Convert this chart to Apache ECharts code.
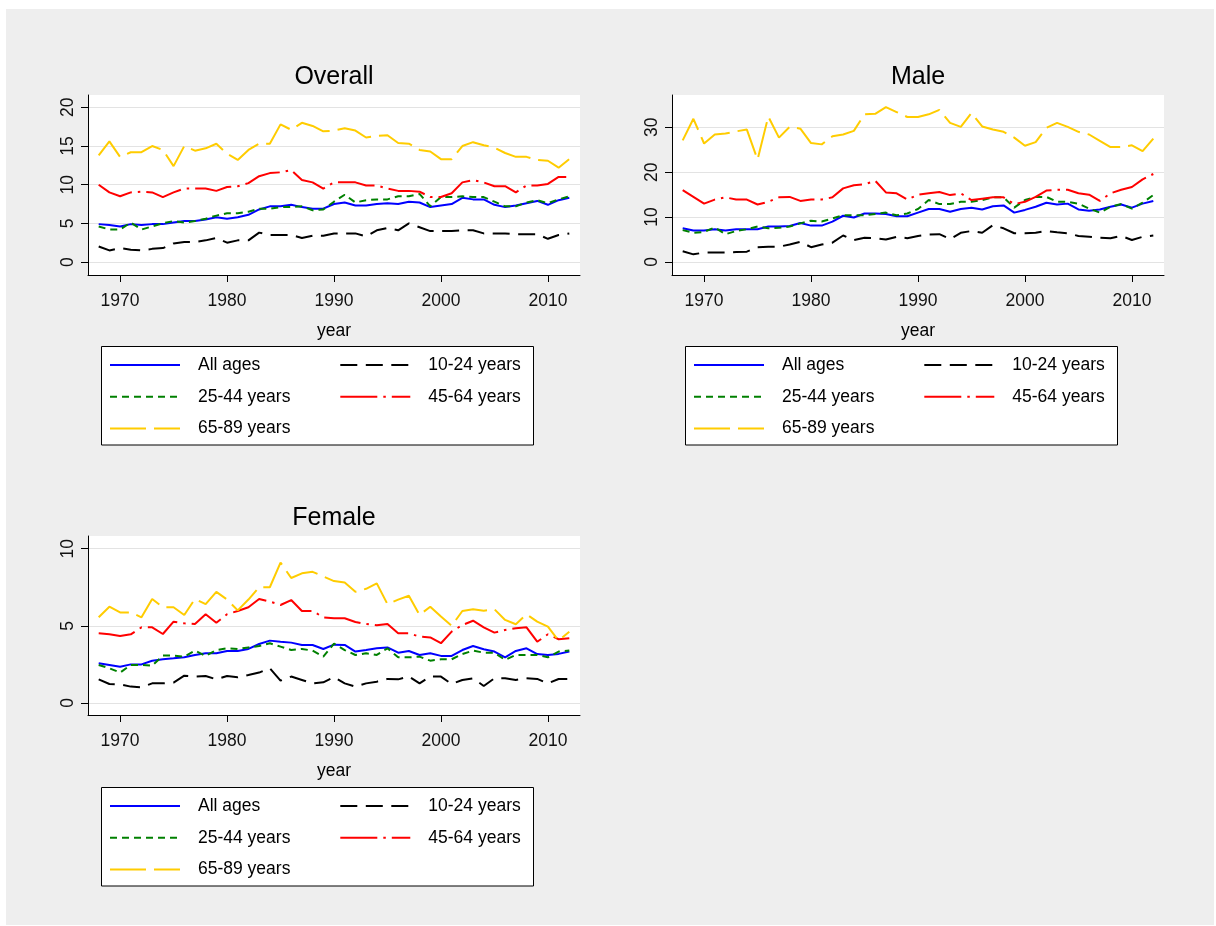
<!DOCTYPE html>
<html>
<head>
<meta charset="utf-8">
<title>Rates by age group, 1968-2012</title>
<script src="https://cdn.jsdelivr.net/npm/echarts@6.0.0/dist/echarts.min.js"></script>
<style>
  html, body { margin: 0; padding: 0; background: #fff; }
  #frame { position: absolute; left: 6px; top: 9px; width: 1208px; height: 916px; background: #eeeeee; }
  #main { position: absolute; left: 0; top: 0; width: 1216px; height: 926px; }
</style>
</head>
<body>
<div id="frame"></div>
<div id="main"></div>
<script>
const years = [1968, 1969, 1970, 1971, 1972, 1973, 1974, 1975, 1976, 1977, 1978, 1979,
  1980, 1981, 1982, 1983, 1984, 1985, 1986, 1987, 1988, 1989,
  1990, 1991, 1992, 1993, 1994, 1995, 1996, 1997, 1998, 1999,
  2000, 2001, 2002, 2003, 2004, 2005, 2006, 2007, 2008, 2009,
  2010, 2011, 2012];
const seriesNames = ['All ages', '10-24 years', '25-44 years', '45-64 years', '65-89 years'];
const xTicks = [1970, 1980, 1990, 2000, 2010];

// Overall
const overallAll = [4.9, 4.8, 4.6, 4.9, 4.8, 4.9, 4.9, 5.1, 5.3, 5.3, 5.5, 5.8,
  5.6, 5.8, 6.1, 6.8, 7.2, 7.2, 7.4, 7.1, 6.9, 6.9,
  7.5, 7.7, 7.3, 7.3, 7.5, 7.6, 7.5, 7.8, 7.7, 7.1,
  7.3, 7.5, 8.3, 8.1, 8.1, 7.4, 7.1, 7.3, 7.6, 7.9,
  7.4, 8.0, 8.3];
const overall1024 = [2.0, 1.5, 1.8, 1.6, 1.5, 1.7, 1.8, 2.4, 2.6, 2.6, 2.8, 3.1,
  2.5, 2.8, 2.8, 3.8, 3.5, 3.5, 3.5, 3.1, 3.4, 3.4,
  3.7, 3.7, 3.7, 3.3, 4.1, 4.4, 4.1, 5.0, 4.5, 4.0,
  4.0, 4.0, 4.1, 4.1, 3.7, 3.7, 3.7, 3.6, 3.6, 3.6,
  3.0, 3.5, 3.7];
const overall2544 = [4.6, 4.2, 4.2, 5.1, 4.2, 4.6, 5.0, 5.3, 5.1, 5.3, 5.6, 6.0,
  6.3, 6.3, 6.5, 6.9, 6.9, 7.1, 7.1, 7.2, 6.7, 6.8,
  7.8, 8.7, 7.7, 8.0, 8.1, 8.1, 8.5, 8.5, 8.8, 7.2,
  8.4, 8.4, 8.5, 8.4, 8.4, 7.8, 7.2, 7.2, 7.7, 8.0,
  7.6, 8.1, 8.5];
const overall4564 = [10.0, 9.0, 8.5, 9.0, 9.1, 9.0, 8.4, 9.0, 9.5, 9.5, 9.5, 9.2,
  9.7, 9.8, 10.2, 11.1, 11.5, 11.6, 11.9, 10.6, 10.3, 9.5,
  10.3, 10.3, 10.3, 9.9, 9.9, 9.5, 9.2, 9.2, 9.1, 8.4,
  8.4, 8.9, 10.3, 10.6, 10.3, 9.8, 9.8, 9.0, 9.9, 9.9,
  10.1, 11.0, 11.0];
const overall6589 = [13.8, 15.6, 13.6, 14.2, 14.2, 15.0, 14.5, 12.4, 15.0, 14.4, 14.7, 15.3,
  14.0, 13.2, 14.5, 15.3, 15.3, 17.8, 17.1, 18.0, 17.6, 16.9,
  17.0, 17.3, 17.0, 16.1, 16.3, 16.4, 15.4, 15.3, 14.5, 14.3,
  13.3, 13.3, 15.0, 15.5, 15.1, 14.8, 14.1, 13.6, 13.6, 13.2,
  13.1, 12.2, 13.3];

// Male
const maleAll = [7.5, 7.0, 7.0, 7.3, 7.0, 7.3, 7.3, 7.3, 7.9, 7.9, 8.0, 8.7,
  8.1, 8.1, 9.0, 10.3, 9.9, 10.8, 10.8, 10.7, 10.2, 10.2,
  11.0, 11.8, 11.8, 11.2, 11.8, 12.1, 11.7, 12.4, 12.6, 11.0,
  11.6, 12.3, 13.2, 12.8, 13.0, 11.7, 11.4, 11.7, 12.3, 12.8,
  12.1, 13.0, 13.6];
const male1024 = [2.4, 1.7, 2.1, 2.1, 2.1, 2.2, 2.3, 3.3, 3.4, 3.4, 3.9, 4.5,
  3.3, 3.9, 4.3, 5.9, 4.9, 5.4, 5.3, 5.0, 5.6, 5.3,
  5.8, 6.1, 6.2, 5.1, 6.5, 6.9, 6.5, 8.2, 7.5, 6.4,
  6.4, 6.5, 6.9, 6.6, 6.4, 5.8, 5.6, 5.4, 5.3, 5.8,
  4.9, 5.6, 5.9];
const male2544 = [7.1, 6.5, 6.7, 7.7, 6.2, 6.9, 7.3, 7.9, 7.5, 7.6, 7.9, 8.6,
  9.2, 9.0, 9.7, 10.4, 10.4, 10.4, 10.7, 11.0, 10.4, 10.8,
  11.8, 13.8, 12.9, 12.9, 13.4, 13.4, 13.8, 14.4, 14.4, 12.1,
  13.8, 14.5, 14.5, 13.4, 13.4, 13.0, 11.9, 11.0, 12.3, 12.9,
  11.9, 13.2, 14.9];
const male4564 = [16.0, 14.5, 13.0, 13.9, 14.4, 13.9, 13.9, 12.8, 13.4, 14.4, 14.5, 13.6,
  13.9, 13.9, 14.4, 16.4, 17.1, 17.3, 18.1, 15.5, 15.3, 13.9,
  15.0, 15.3, 15.6, 14.9, 15.3, 13.8, 14.1, 14.4, 14.4, 12.9,
  13.4, 14.5, 15.9, 16.1, 16.1, 15.3, 15.0, 13.6, 15.3, 16.1,
  16.7, 18.4, 19.6];
const male6589 = [27.1, 31.9, 26.4, 28.4, 28.6, 29.1, 29.5, 22.8, 32.4, 27.7, 30.1, 29.7,
  26.5, 26.2, 28.0, 28.4, 29.2, 32.9, 33.0, 34.5, 33.4, 32.3,
  32.3, 32.9, 33.9, 31.0, 30.1, 33.2, 30.2, 29.5, 29.0, 27.7,
  25.9, 26.7, 29.9, 31.0, 30.1, 29.0, 28.4, 27.0, 25.6, 25.6,
  26.0, 24.7, 27.5];

// Female
const femaleAll = [2.57, 2.46, 2.35, 2.5, 2.5, 2.74, 2.83, 2.89, 2.96, 3.11, 3.22, 3.22,
  3.37, 3.37, 3.5, 3.82, 4.04, 3.97, 3.91, 3.76, 3.76, 3.5,
  3.78, 3.76, 3.33, 3.43, 3.54, 3.6, 3.26, 3.37, 3.11, 3.22,
  3.05, 3.05, 3.43, 3.69, 3.48, 3.33, 2.96, 3.37, 3.54, 3.17,
  3.11, 3.18, 3.33];
const female1024 = [1.53, 1.23, 1.21, 1.06, 1.02, 1.27, 1.27, 1.32, 1.77, 1.71, 1.75, 1.53,
  1.75, 1.66, 1.81, 1.97, 2.25, 1.45, 1.71, 1.49, 1.27, 1.34,
  1.68, 1.27, 1.06, 1.27, 1.38, 1.56, 1.53, 1.71, 1.27, 1.71,
  1.71, 1.23, 1.49, 1.6, 1.1, 1.6, 1.6, 1.49, 1.6, 1.56,
  1.27, 1.55, 1.55];
const female2544 = [2.46, 2.25, 1.97, 2.46, 2.46, 2.42, 3.07, 3.07, 3.0, 3.39, 3.05, 3.43,
  3.54, 3.5, 3.6, 3.69, 3.87, 3.65, 3.43, 3.5, 3.39, 3.0,
  3.85, 3.43, 3.11, 3.22, 3.11, 3.54, 2.96, 2.96, 3.0, 2.74,
  2.83, 2.83, 3.17, 3.39, 3.26, 3.26, 2.79, 3.11, 3.11, 3.11,
  2.96, 3.33, 3.4];
const female4564 = [4.51, 4.45, 4.34, 4.45, 4.9, 4.9, 4.47, 5.27, 5.16, 5.12, 5.75, 5.2,
  5.75, 5.96, 6.2, 6.74, 6.57, 6.35, 6.67, 5.96, 5.96, 5.55,
  5.49, 5.49, 5.25, 5.12, 5.03, 5.12, 4.51, 4.51, 4.3, 4.25,
  3.87, 4.62, 5.05, 5.33, 4.9, 4.56, 4.73, 4.84, 4.9, 3.97,
  4.45, 4.13, 4.2];
const female6589 = [5.55, 6.24, 5.87, 5.87, 5.55, 6.74, 6.2, 6.2, 5.7, 6.74, 6.4, 7.2,
  6.7, 6.0, 6.7, 7.5, 7.5, 9.1, 8.1, 8.4, 8.5, 8.2,
  7.9, 7.8, 7.2, 7.4, 7.75, 6.4, 6.7, 6.95, 5.7, 6.24,
  5.6, 5.0, 5.96, 6.07, 5.98, 6.07, 5.38, 5.1, 5.75, 5.27,
  4.95, 4.04, 4.62];

const font = 'Liberation Sans, Arial, Helvetica, sans-serif';
const fs = 17.5;

// line look for each age group, same order as seriesNames
const lineLooks = [
  { color: '#0000ff', type: 'solid' },
  { color: '#000000', type: [17, 8.5] },
  { color: '#008000', type: [7, 5] },
  { color: '#ff0000', type: [37, 6, 2.5, 6] },
  { color: '#ffcc00', type: [36, 8] }
];

const panels = [
  { title: 'Overall', left: 88, top: 95, height: 180, yMin: -1.68, yMax: 21.6, yTicks: [0, 5, 10, 15, 20],
    values: [overallAll, overall1024, overall2544, overall4564, overall6589] },
  { title: 'Male', left: 672, top: 95, height: 180, yMin: -2.9, yMax: 37.2, yTicks: [0, 10, 20, 30],
    values: [maleAll, male1024, male2544, male4564, male6589] },
  { title: 'Female', left: 88, top: 536, height: 179, yMin: -0.78, yMax: 10.82, yTicks: [0, 5, 10],
    values: [femaleAll, female1024, female2544, female4564, female6589] }
];
const plotWidth = 492;

const grid = [], xAxis = [], yAxis = [], series = [], legend = [], graphic = [];

panels.forEach(function (p, k) {
  grid.push({
    left: p.left, top: p.top, width: plotWidth, height: p.height,
    show: true, backgroundColor: '#ffffff', borderWidth: 0
  });
  xAxis.push({
    type: 'value', gridIndex: k, min: 1967, max: 2013,
    name: 'year', nameLocation: 'middle', nameGap: 47,
    nameTextStyle: { color: '#000', fontSize: fs, fontFamily: font },
    axisLine: { onZero: false, lineStyle: { color: '#000', width: 1 } },
    axisTick: { customValues: xTicks, length: 7, lineStyle: { color: '#000' } },
    axisLabel: {
      customValues: xTicks, margin: 17, color: '#111', fontSize: fs, fontFamily: font,
      formatter: function (v) { return String(v); }
    },
    splitLine: { show: false }
  });
  yAxis.push({
    type: 'value', gridIndex: k, min: p.yMin, max: p.yMax,
    axisLine: { show: true, onZero: false, lineStyle: { color: '#000', width: 1 } },
    axisTick: { show: true, customValues: p.yTicks, length: 7, lineStyle: { color: '#000' } },
    axisLabel: { customValues: p.yTicks, rotate: 90, margin: 11, color: '#111', fontSize: fs, fontFamily: font },
    splitLine: { show: true, lineStyle: { color: '#e3e3e3', width: 1 } }
  });
  p.values.forEach(function (vals, i) {
    series.push({
      name: seriesNames[i], type: 'line', xAxisIndex: k, yAxisIndex: k,
      data: years.map(function (y, j) { return [y, vals[j]]; }),
      symbol: 'none', smooth: false,
      lineStyle: { color: lineLooks[i].color, width: 2, type: lineLooks[i].type },
      itemStyle: { color: lineLooks[i].color }
    });
  });

  // title above the plot
  graphic.push({
    type: 'text', x: p.left + plotWidth / 2, y: p.top - 18,
    style: { text: p.title, fill: '#000', font: '25px ' + font, textAlign: 'center', textVerticalAlign: 'middle' }
  });

  // legend box under the axis title
  const boxTop = p.top + 251.5;
  graphic.push({
    type: 'rect', z: 1,
    shape: { x: p.left + 13.5, y: boxTop, width: 432, height: 98.5 },
    style: { fill: '#fff', stroke: '#000', lineWidth: 1 }
  });
  const cols = [[seriesNames[0], seriesNames[2], seriesNames[4]], [seriesNames[1], seriesNames[3]]];
  cols.forEach(function (names, c) {
    legend.push({
      data: names.map(function (n) {
        const look = lineLooks[seriesNames.indexOf(n)];
        return { name: n, lineStyle: { color: look.color, width: 2, type: look.type } };
      }),
      orient: 'vertical', left: p.left + 21 + c * 230.3, top: boxTop + 9.5,
      padding: 0, itemWidth: 70, itemHeight: 18, itemGap: 13.7, selectedMode: false,
      itemStyle: { color: 'rgba(0,0,0,0)', borderWidth: 0, opacity: 0 },
      textStyle: { color: '#000', fontSize: fs, lineHeight: 18, fontFamily: font, padding: [0, 0, 0, 13] }
    });
  });
});

const chart = echarts.init(document.getElementById('main'));
chart.setOption({
  animation: false,
  backgroundColor: 'transparent',
  textStyle: { fontFamily: font },
  grid: grid,
  xAxis: xAxis,
  yAxis: yAxis,
  legend: legend,
  graphic: graphic,
  series: series
});
</script>
</body>
</html>
